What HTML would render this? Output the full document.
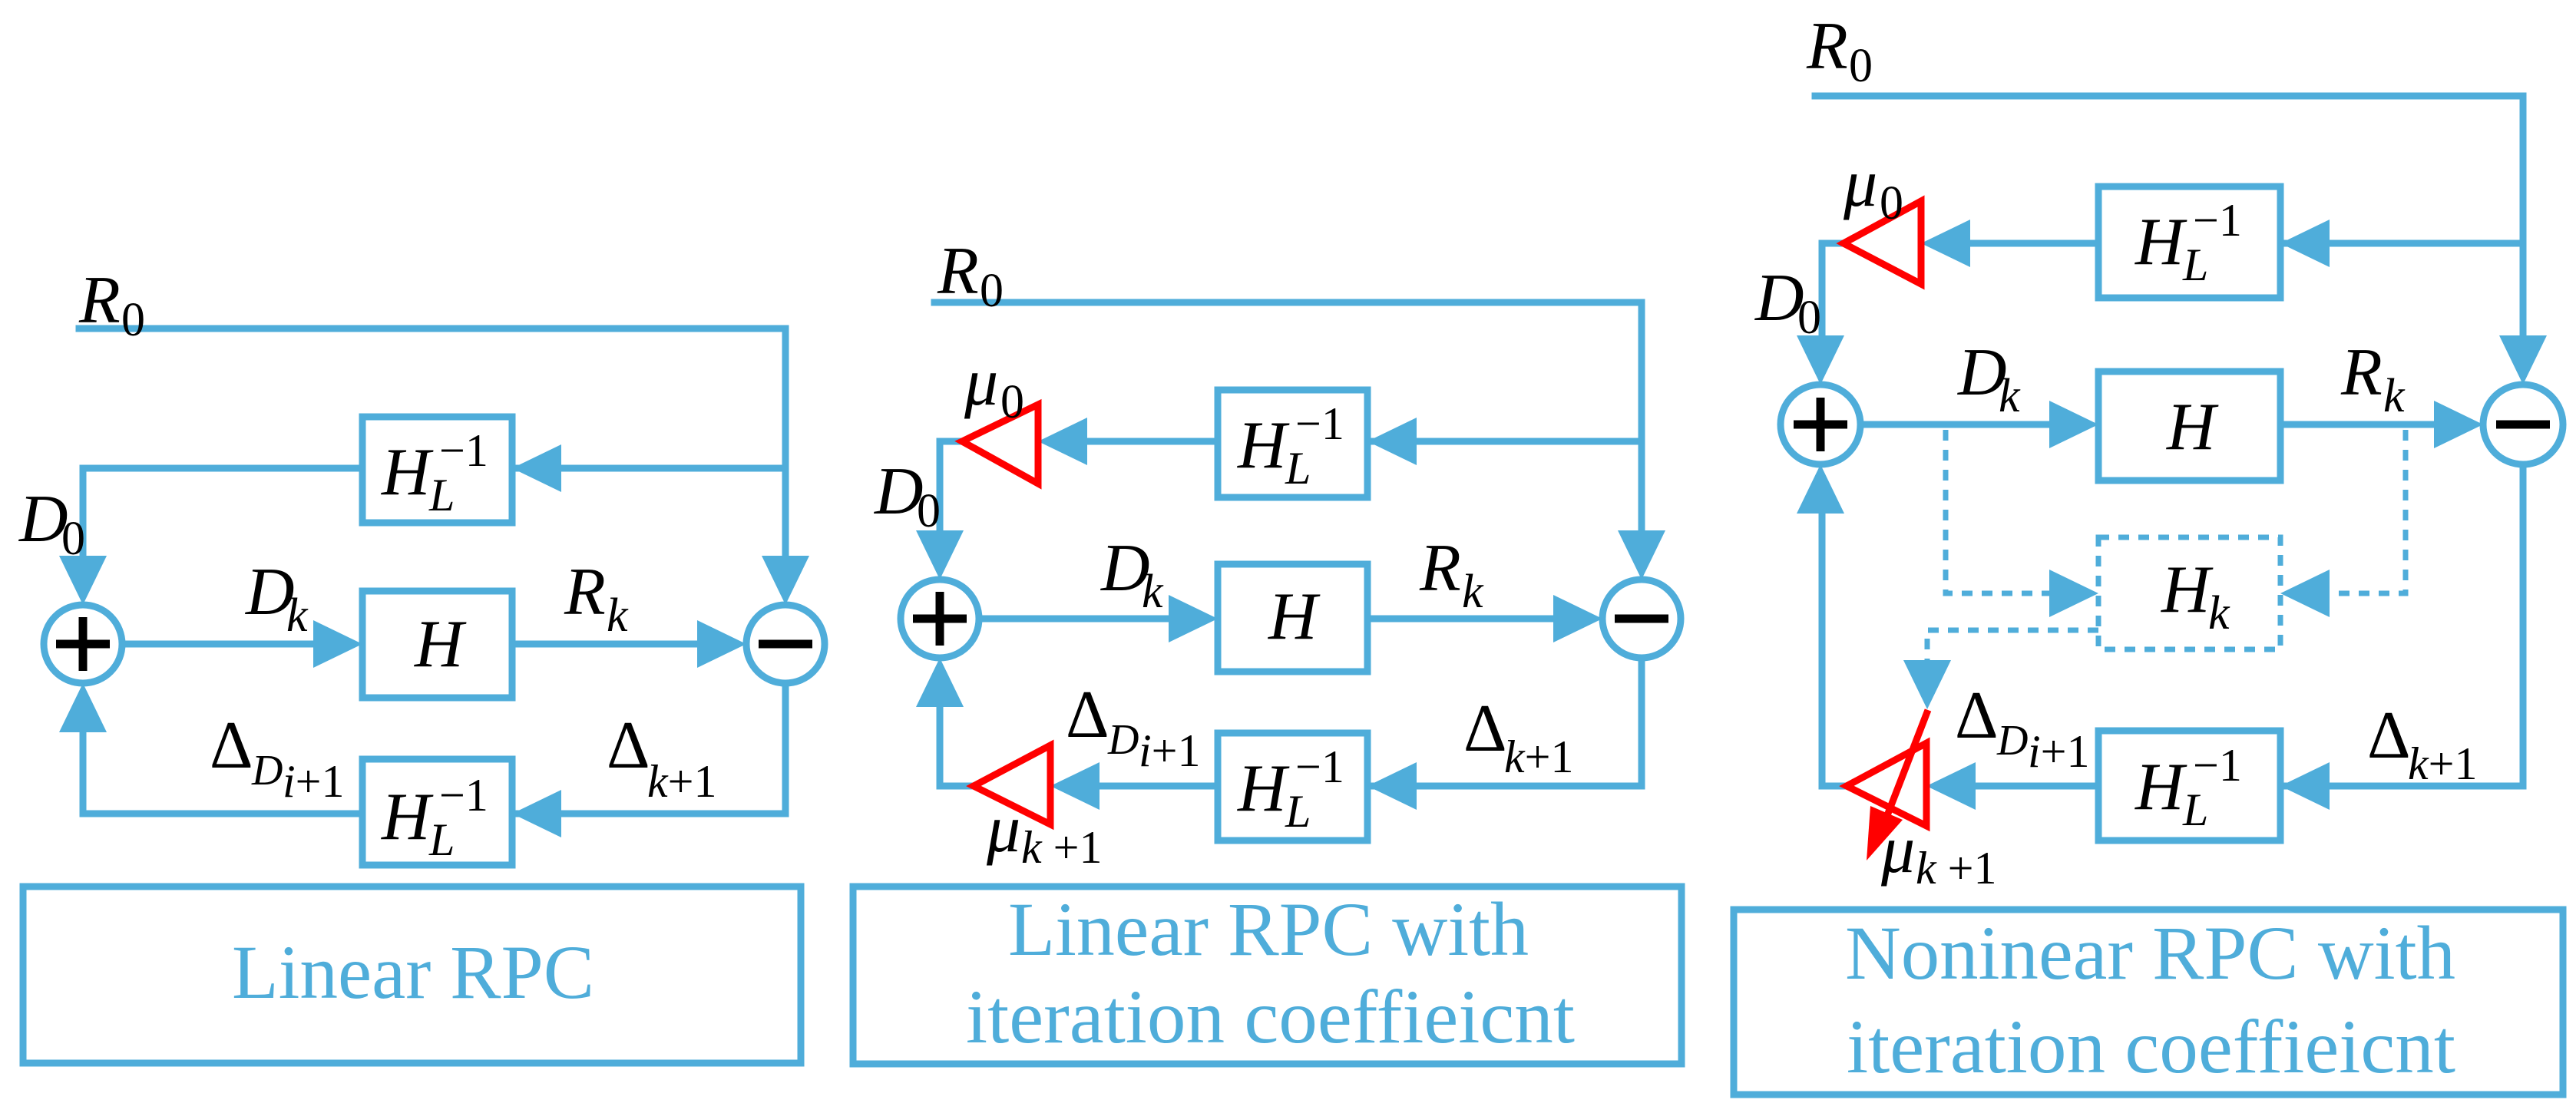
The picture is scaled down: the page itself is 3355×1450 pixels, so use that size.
<!DOCTYPE html>
<html><head><meta charset="utf-8"><style>
html,body{margin:0;padding:0;background:#fff;}
svg{display:block;}
.m{font-family:"Liberation Serif",serif;font-style:italic;fill:#000;}
.r{font-family:"Liberation Serif",serif;font-style:normal;fill:#000;}
.c{font-family:"Liberation Serif",serif;fill:#4fadda;}
</style></head><body>
<svg width="3355" height="1450" viewBox="0 0 3355 1450" xmlns="http://www.w3.org/2000/svg">
<g stroke="#4fadda" stroke-width="9" fill="none" stroke-linecap="square">
<!-- Panel 1 -->
<polyline points="103,428 1023,428 1023,760"/>
<polyline points="1023,610 667,610"/>
<polyline points="472,610 108,610 108,760"/>
<line x1="160" y1="839" x2="420" y2="839"/>
<line x1="667" y1="839" x2="920" y2="839"/>
<polyline points="1023,890 1023,1060 667,1060"/>
<polyline points="472,1060 108,1060 108,950"/>
<rect x="472" y="543" width="195" height="138"/>
<rect x="472" y="770" width="195" height="139"/>
<rect x="472" y="989" width="195" height="138"/>
<circle cx="108" cy="839" r="51"/>
<circle cx="1023" cy="839" r="51"/>
<rect x="30" y="1155" width="1013" height="230"/>
<!-- Panel 2 -->
<polyline points="1217,394 2138,394 2138,730"/>
<polyline points="2138,575 1781,575"/>
<line x1="1586" y1="575" x2="1400" y2="575"/>
<polyline points="1253,575 1224,575 1224,730"/>
<line x1="1275" y1="806" x2="1530" y2="806"/>
<line x1="1781" y1="806" x2="2030" y2="806"/>
<polyline points="2138,857 2138,1024 1781,1024"/>
<line x1="1586" y1="1024" x2="1420" y2="1024"/>
<polyline points="1268,1024 1224,1024 1224,920"/>
<rect x="1586" y="508" width="195" height="140"/>
<rect x="1586" y="735" width="195" height="140"/>
<rect x="1586" y="955" width="195" height="140"/>
<circle cx="1224" cy="806" r="51"/>
<circle cx="2138" cy="806" r="51"/>
<rect x="1111" y="1155" width="1079" height="231"/>
<!-- Panel 3 -->
<polyline points="2364,125 3286,125 3286,450"/>
<polyline points="3286,317 2970,317"/>
<line x1="2733" y1="317" x2="2550" y2="317"/>
<polyline points="2401,317 2373,317 2373,450"/>
<line x1="2425" y1="553" x2="2680" y2="553"/>
<line x1="2970" y1="553" x2="3180" y2="553"/>
<polyline points="3286,607 3286,1024 2970,1024"/>
<line x1="2733" y1="1024" x2="2560" y2="1024"/>
<polyline points="2405,1024 2373,1024 2373,670"/>
<rect x="2733" y="243" width="237" height="145"/>
<rect x="2733" y="484" width="237" height="142"/>
<rect x="2733" y="952" width="237" height="143"/>
<circle cx="2371" cy="553" r="52"/>
<circle cx="3286" cy="553" r="52"/>
<rect x="2258" y="1185" width="1080" height="241"/>
<g stroke-dasharray="14,12" stroke-width="7" stroke-linecap="butt">
<rect x="2733" y="700" width="237" height="146"/>
<polyline points="2534,560 2534,773 2680,773"/>
<polyline points="3133,560 3133,773 3030,773"/>
<polyline points="2733,821 2510,821 2510,870"/>
</g>
</g>
<!-- arrowheads -->
<g fill="#4fadda">
<polygon points="472,839 408,808 408,870"/>
<polygon points="972,839 908,808 908,870"/>
<polygon points="667,610 731,579 731,641"/>
<polygon points="1023,788 992,724 1054,724"/>
<polygon points="108,788 77,724 139,724"/>
<polygon points="108,890 77,954 139,954"/>
<polygon points="667,1060 731,1029 731,1091"/>

<polygon points="1586,806 1522,775 1522,837"/>
<polygon points="2087,806 2023,775 2023,837"/>
<polygon points="1781,575 1845,544 1845,606"/>
<polygon points="1352,575 1416,544 1416,606"/>
<polygon points="2138,755 2107,691 2169,691"/>
<polygon points="1224,755 1193,691 1255,691"/>
<polygon points="1224,857 1193,921 1255,921"/>
<polygon points="1781,1024 1845,993 1845,1055"/>
<polygon points="1368,1024 1432,993 1432,1055"/>

<polygon points="2733,553 2669,522 2669,584"/>
<polygon points="3234,553 3170,522 3170,584"/>
<polygon points="2970,317 3034,286 3034,348"/>
<polygon points="2502,317 2566,286 2566,348"/>
<polygon points="3286,501 3255,437 3317,437"/>
<polygon points="2371,501 2340,437 2402,437"/>
<polygon points="2371,605 2340,669 2402,669"/>
<polygon points="2733,773 2669,742 2669,804"/>
<polygon points="2970,773 3034,742 3034,804"/>
<polygon points="2510,924 2479,860 2541,860"/>
<polygon points="2970,1024 3034,993 3034,1055"/>
<polygon points="2509,1024 2573,993 2573,1055"/>
</g>
<!-- red triangles -->
<g fill="none" stroke="#ff0000" stroke-width="9">
<polygon points="1253,575 1352,527 1352,630"/>
<polygon points="1268,1024 1368,971 1368,1074"/>
<polygon points="2401,317 2502,262 2502,370"/>
<polygon points="2405,1024 2509,968 2509,1076"/>
<line x1="2511" y1="925" x2="2455" y2="1070"/>
</g>
<polygon points="2431,1121 2436,1050 2478,1068" fill="#ff0000"/>
<!-- plus / minus signs -->
<g stroke="#000" stroke-width="11">
<line x1="73" y1="839" x2="143" y2="839"/><line x1="108" y1="804" x2="108" y2="874"/>
<line x1="988" y1="839" x2="1058" y2="839"/>
<line x1="1189" y1="806" x2="1259" y2="806"/><line x1="1224" y1="771" x2="1224" y2="841"/>
<line x1="2103" y1="806" x2="2173" y2="806"/>
<line x1="2336" y1="553" x2="2406" y2="553"/><line x1="2371" y1="518" x2="2371" y2="588"/>
<line x1="3251" y1="553" x2="3321" y2="553"/>
</g>
<!-- Panel 1 labels -->
<g font-size="88">
<text class="m" x="103" y="420">R</text><text class="r" x="158" y="437" font-size="62">0</text>
<text class="m" x="25" y="705">D</text><text class="r" x="80" y="722" font-size="62">0</text>
<text class="m" x="320" y="800">D</text><text class="m" x="373" y="822" font-size="62">k</text>
<text class="m" x="735" y="800">R</text><text class="m" x="790" y="822" font-size="62">k</text>
<text class="m" x="540" y="868">H</text>
<text class="m" x="497" y="644">H</text><text class="m" x="559" y="665" font-size="60">L</text><text class="r" x="572" y="607" font-size="60">−1</text>
<text class="m" x="497" y="1093">H</text><text class="m" x="559" y="1114" font-size="60">L</text><text class="r" x="572" y="1056" font-size="60">−1</text>
<text class="r" x="273" y="1000">Δ</text><text class="m" x="328" y="1022" font-size="56">D</text><text class="r" x="368" y="1038" font-size="60"><tspan font-style="italic">i</tspan>+1</text>
<text class="r" x="790" y="1000">Δ</text><text class="r" x="843" y="1038" font-size="60"><tspan font-style="italic">k</tspan>+1</text>
</g>
<text class="c" x="302" y="1300" font-size="100" textLength="472" lengthAdjust="spacingAndGlyphs">Linear RPC</text>
<!-- Panel 2 labels -->
<g font-size="88">
<text class="m" x="1221" y="382">R</text><text class="r" x="1276" y="399" font-size="62">0</text>
<text class="m" x="1256" y="527">μ</text><text class="r" x="1303" y="544" font-size="62">0</text>
<text class="m" x="1139" y="669">D</text><text class="r" x="1194" y="686" font-size="62">0</text>
<text class="m" x="1434" y="769">D</text><text class="m" x="1487" y="791" font-size="62">k</text>
<text class="m" x="1849" y="769">R</text><text class="m" x="1904" y="791" font-size="62">k</text>
<text class="m" x="1652" y="832">H</text>
<text class="m" x="1612" y="609">H</text><text class="m" x="1674" y="630" font-size="60">L</text><text class="r" x="1687" y="572" font-size="60">−1</text>
<text class="m" x="1612" y="1056">H</text><text class="m" x="1674" y="1077" font-size="60">L</text><text class="r" x="1687" y="1019" font-size="60">−1</text>
<text class="r" x="1388" y="960">Δ</text><text class="m" x="1443" y="982" font-size="56">D</text><text class="r" x="1483" y="998" font-size="60"><tspan font-style="italic">i</tspan>+1</text>
<text class="r" x="1906" y="978">Δ</text><text class="r" x="1959" y="1006" font-size="60"><tspan font-style="italic">k</tspan>+1</text>
<text class="m" x="1285" y="1109">μ</text><text class="r" x="1330" y="1124" font-size="60"><tspan font-style="italic">k</tspan> +1</text>
</g>
<text class="c" x="1313" y="1244" font-size="100" textLength="678" lengthAdjust="spacingAndGlyphs">Linear RPC with</text>
<text class="c" x="1258" y="1358" font-size="100" textLength="793" lengthAdjust="spacingAndGlyphs">iteration coeffieicnt</text>
<!-- Panel 3 labels -->
<g font-size="88">
<text class="m" x="2353" y="89">R</text><text class="r" x="2408" y="106" font-size="62">0</text>
<text class="m" x="2401" y="268">μ</text><text class="r" x="2448" y="285" font-size="62">0</text>
<text class="m" x="2286" y="417">D</text><text class="r" x="2341" y="434" font-size="62">0</text>
<text class="m" x="2550" y="514">D</text><text class="m" x="2603" y="536" font-size="62">k</text>
<text class="m" x="3049" y="514">R</text><text class="m" x="3104" y="536" font-size="62">k</text>
<text class="m" x="2822" y="585">H</text>
<text class="m" x="2815" y="797">H</text><text class="m" x="2876" y="819" font-size="62">k</text>
<text class="m" x="2781" y="344">H</text><text class="m" x="2843" y="365" font-size="60">L</text><text class="r" x="2856" y="307" font-size="60">−1</text>
<text class="m" x="2781" y="1054">H</text><text class="m" x="2843" y="1075" font-size="60">L</text><text class="r" x="2856" y="1017" font-size="60">−1</text>
<text class="r" x="2546" y="961">Δ</text><text class="m" x="2601" y="983" font-size="56">D</text><text class="r" x="2641" y="999" font-size="60"><tspan font-style="italic">i</tspan>+1</text>
<text class="r" x="3083" y="987">Δ</text><text class="r" x="3136" y="1015" font-size="60"><tspan font-style="italic">k</tspan>+1</text>
<text class="m" x="2450" y="1136">μ</text><text class="r" x="2495" y="1151" font-size="60"><tspan font-style="italic">k</tspan> +1</text>
</g>
<text class="c" x="2403" y="1275" font-size="100" textLength="795" lengthAdjust="spacingAndGlyphs">Noninear RPC with</text>
<text class="c" x="2405" y="1397" font-size="100" textLength="793" lengthAdjust="spacingAndGlyphs">iteration coeffieicnt</text>
</svg>
</body></html>
